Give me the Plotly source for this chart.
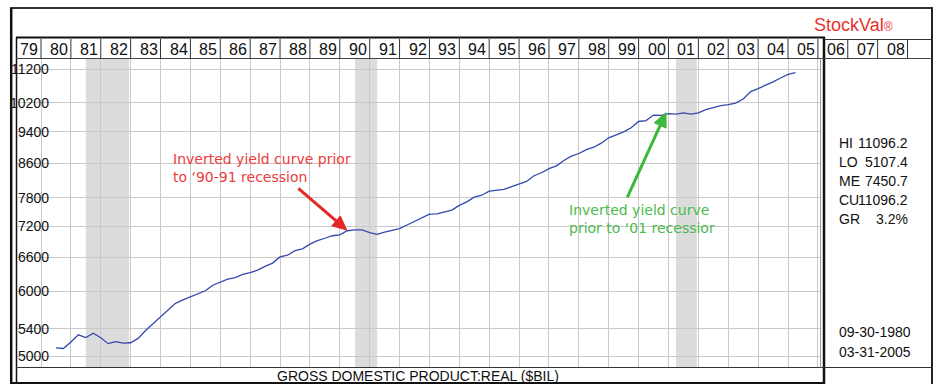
import numpy as np
import pandas as pd
import plotly.graph_objects as go

W, H = 935, 384

# ---------------- data ----------------
quarters = list(pd.period_range("1980Q2", "2005Q1", freq="Q").astype(str))
gdp = [
    5117.0, 5107.4, 5202.1,                      # 1980 Q2-Q4
    5307.5, 5266.1, 5329.8, 5263.4,              # 1981
    5177.1, 5204.9, 5185.2, 5189.8,              # 1982
    5253.8, 5372.3, 5478.4, 5590.5,              # 1983
    5699.8, 5797.9, 5854.3, 5902.4,              # 1984
    5956.9, 6007.8, 6101.7, 6148.6,              # 1985
    6207.4, 6232.0, 6291.7, 6323.4,              # 1986
    6365.0, 6435.0, 6493.4, 6606.8,              # 1987
    6639.1, 6723.5, 6759.4, 6848.6,              # 1988
    6918.1, 6963.5, 7013.1, 7030.9,              # 1989
    7112.1, 7130.3, 7130.8, 7076.9,              # 1990
    7040.8, 7086.5, 7120.7, 7154.1,              # 1991
    7228.2, 7297.9, 7369.5, 7450.7,              # 1992
    7459.7, 7497.5, 7536.0, 7637.4,              # 1993
    7715.1, 7815.7, 7859.5, 7951.6,              # 1994
    7973.7, 7988.0, 8053.1, 8112.0,              # 1995
    8169.2, 8303.1, 8372.7, 8470.6,              # 1996
    8536.1, 8665.8, 8773.7, 8838.4,              # 1997
    8936.2, 8995.3, 9098.9, 9237.1,              # 1998
    9315.5, 9392.6, 9502.2, 9671.1,              # 1999
    9695.6, 9847.9, 9836.6, 9887.7,              # 2000
    9875.6, 9905.9, 9871.1, 9910.0,              # 2001
    10000.0, 10055.0, 10110.0, 10140.0,          # 2002
    10185.0, 10300.0, 10520.0, 10610.0,          # 2003
    10705.0, 10810.0, 10930.0, 11040.0,          # 2004
    11096.2,                                     # 2005 Q1
]
recession_start = [1981.50, 1990.51, 2001.25]
recession_end = [1982.95, 1991.25, 2001.95]
y_ticks = [5000, 5400, 6000, 6600, 7200, 7800, 8600, 9400, 10200, 11200]
years = list(range(1979, 2009))
year_labels = [f"{y % 100:02d}" for y in years]
stat_names = ["HI", "LO", "ME", "CU", "GR"]
stat_values = ["11096.2", "5107.4", "7450.7", "11096.2", "3.2%"]
date_range_labels = ["09-30-1980", "03-31-2005"]
title_text = "GROSS DOMESTIC PRODUCT:REAL ($BIL)"
red_note = ["Inverted yield curve prior", "to ‘90-91 recession"]
green_note = ["Inverted yield curve", "prior to ‘01 recessior"]

# quarter-end positions in decimal years
per = pd.PeriodIndex(quarters, freq="Q")
t = [p.year + p.quarter * 0.25 for p in per]

# ---------------- geometry helpers (pixels -> paper) ----------------
PX_YEAR = 29.88
X1980 = 41.0
def tx(year):
    return X1980 + PX_YEAR * (year - 1980)
def px(x):
    return x / W
def py(y):
    return 1 - y / H

PLOT_L, PLOT_R = 17.0, 821.0
PLOT_T, PLOT_B = 58.5, 367.5
LOG_REF, Y_REF, PX_DEC = np.log10(11200), 69.3, 818.6
y_lo = LOG_REF - (PLOT_B - Y_REF) / PX_DEC
y_hi = LOG_REF + (Y_REF - PLOT_T) / PX_DEC
x_lo = 1980 + (PLOT_L - X1980) / PX_YEAR
x_hi = 1980 + (PLOT_R - X1980) / PX_YEAR

fig = go.Figure()
fig.add_trace(go.Scatter(x=t, y=gdp, mode="lines",
                         line=dict(color="#3548ae", width=1.3),
                         hoverinfo="skip", showlegend=False))

shapes = []
# recession bands
for a, b in zip(recession_start, recession_end):
    shapes.append(dict(type="rect", xref="x", yref="paper", x0=a, x1=b,
                       y0=py(PLOT_B), y1=py(PLOT_T), fillcolor="#dcdcdc",
                       line=dict(width=0), layer="below"))
# white label strip on the left of the plot (hides grid under labels)
shapes.append(dict(type="rect", xref="paper", yref="paper", x0=px(PLOT_L), x1=px(59.5),
                   y0=py(PLOT_B - 0.5), y1=py(PLOT_T + 0.5), fillcolor="white",
                   line=dict(width=0), layer="between"))

def hline(y, x0, x1, w=1, c="#222"):
    shapes.append(dict(type="line", xref="paper", yref="paper", x0=px(x0), x1=px(x1),
                       y0=py(y), y1=py(y), line=dict(color=c, width=w)))
def vline(x, y0, y1, w=1, c="#222"):
    shapes.append(dict(type="line", xref="paper", yref="paper", x0=px(x), x1=px(x),
                       y0=py(y0), y1=py(y1), line=dict(color=c, width=w)))
def arrow(tail, tip, color, head_len=14.0, head_half=6.5, width=3):
    tx_, ty_ = tail
    hx, hy = tip
    dx, dy = hx - tx_, hy - ty_
    L = (dx * dx + dy * dy) ** 0.5
    ux, uy = dx / L, dy / L
    bx, by = hx - head_len * ux, hy - head_len * uy
    nx, ny = -uy, ux
    shapes.append(dict(type="line", xref="paper", yref="paper", x0=px(tx_), y0=py(ty_),
                       x1=px(bx + 2 * ux), y1=py(by + 2 * uy), line=dict(color=color, width=width)))
    p1 = (bx + head_half * nx, by + head_half * ny)
    p2 = (bx - head_half * nx, by - head_half * ny)
    path = (f"M {px(hx)} {py(hy)} L {px(p1[0])} {py(p1[1])} "
            f"L {px(p2[0])} {py(p2[1])} Z")
    shapes.append(dict(type="path", xref="paper", yref="paper", path=path,
                       fillcolor=color, line=dict(color=color, width=1)))

# outer frame
hline(8, 10, 933, 2, "#333")
vline(11.2, 8, 384, 2.5, "#111")
vline(932, 8, 384, 2, "#222")
# inner box
vline(16.5, 37.5, 384, 1.5, "#111")
hline(37.5, 16, 825, 2.2, "#111")
vline(824, 37.5, 384, 2.5, "#111")
hline(383, 10, 825, 2.2, "#111")
# header row
hline(39.5, 824, 932, 1, "#333")
hline(58.5, 16, 932, 1, "#444")
for y in years[1:] + [2009]:
    vline(tx(y), 39, 58.5, 1, "#333")
# bottom row
hline(367.5, 16, 932, 1, "#333")
vline(820.5, 58.5, 367.5, 1, "#999")

# callout arrows
arrow((298.3, 188.3), (346.7, 230.0), "#e42626")
arrow((627.3, 197.3), (666.0, 112.7), "#3cb83c")

annotations = []
for y, lab in zip(years, year_labels):
    annotations.append(dict(xref="paper", yref="paper", x=px(tx(y) + 7.0),
                            y=py(49.5), text=lab, showarrow=False, xanchor="left",
                            yanchor="middle", font=dict(family="Liberation Sans", size=16, color="#111")))
for v in y_ticks:
    annotations.append(dict(xref="paper", yref="y", x=px(51), y=np.log10(v), text=str(v),
                            showarrow=False, xanchor="right", yanchor="middle",
                            font=dict(family="Liberation Sans", size=14, color="#111")))
# right panel stats
stat_y = [142.7, 162.0, 180.7, 199.5, 219.0]
for name, val, yy in zip(stat_names, stat_values, stat_y):
    annotations.append(dict(xref="paper", yref="paper", x=px(836.5), y=py(yy), text=name,
                            showarrow=False, xanchor="left", yanchor="middle",
                            font=dict(family="Liberation Sans", size=14, color="#111")))
    annotations.append(dict(xref="paper", yref="paper", x=px(910), y=py(yy), text=val,
                            showarrow=False, xanchor="right", yanchor="middle",
                            font=dict(family="Liberation Sans", size=14, color="#111")))
for lab, yy in zip(date_range_labels, [332.3, 351.7]):
    annotations.append(dict(xref="paper", yref="paper", x=px(836.5), y=py(yy), text=lab,
                            showarrow=False, xanchor="left", yanchor="middle",
                            font=dict(family="Liberation Sans", size=14, color="#111")))
# title cells
annotations.append(dict(xref="paper", yref="paper", x=px(853), y=py(25),
                        text="StockVal<span style='font-size:12px'>®</span>",
                        showarrow=False, xanchor="center", yanchor="middle",
                        font=dict(family="Liberation Sans", size=18, color="#e8312d")))
annotations.append(dict(xref="paper", yref="paper", x=px(417.5), y=py(376), text=title_text,
                        showarrow=False, xanchor="center", yanchor="middle",
                        font=dict(family="Liberation Sans", size=14, color="#111")))
# callout texts (two-line blocks)
for lines, xx, yy, col in [(red_note, 171, 168.3, "#ee3b3b"),
                           (green_note, 567, 218.5, "#4cbb4c")]:
    annotations.append(dict(xref="paper", yref="paper", x=px(xx), y=py(yy),
                            text="<br>".join(lines), align="left",
                            showarrow=False, xanchor="left", yanchor="middle",
                            font=dict(family="DejaVu Sans", size=14, color=col)))

fig.update_layout(
    width=W, height=H, margin=dict(l=0, r=0, t=0, b=0),
    paper_bgcolor="white", plot_bgcolor="white",
    xaxis=dict(domain=[px(PLOT_L), px(PLOT_R)], range=[x_lo, x_hi], tick0=1980, dtick=1,
               showgrid=True, gridcolor="#c9c9c9", gridwidth=1, showticklabels=False,
               zeroline=False, showline=False, ticks="", fixedrange=True),
    yaxis=dict(domain=[py(PLOT_B), py(PLOT_T)], type="log", range=[y_lo, y_hi],
               tickvals=y_ticks, showgrid=True, gridcolor="#c9c9c9", gridwidth=1,
               showticklabels=False, zeroline=False, showline=False, ticks="", fixedrange=True),
    shapes=shapes, annotations=annotations, showlegend=False,
)
fig.write_html("out.html")
